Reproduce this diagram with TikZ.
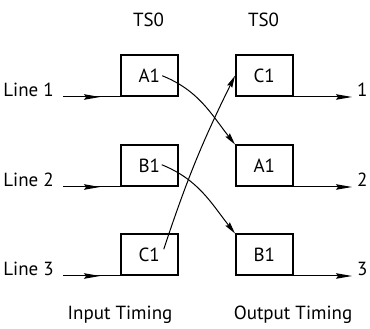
\documentclass[tikz,border=0pt]{standalone}
\usepackage{fontspec}
\setmainfont{PT Sans}
\usetikzlibrary{arrows.meta,decorations.markings}
\begin{document}
\begin{tikzpicture}[x=1pt,y=1pt,
  font=\fontsize{19}{22}\selectfont,
  slot/.style={draw,line width=1.5pt,minimum width=57pt,minimum height=41pt,inner sep=0pt,anchor=south west},
  lbl/.style={inner sep=0pt},
  conn/.style={line width=1pt},
  tipbig/.style={-{Stealth[length=16pt,width=5.5pt,inset=2pt]}},
  tipsmall/.style={-{Stealth[length=12pt,width=5.5pt,inset=1.5pt]}},
  midarrow/.style={postaction={decorate},decoration={markings,mark=at position 0.65 with {\arrow{Stealth[length=16pt,width=5.5pt,inset=2pt]}}}}
]
\useasboundingbox (0,0) rectangle (370,329);
% boxes
\node[slot] (a1) at (120,232) {A1};
\node[slot] (b1) at (120,142) {B1};
\node[slot] (c1) at (120,53) {C1};
\node[slot] (c2) at (235,232) {C1};
\node[slot] (a2) at (235,142) {A1};
\node[slot] (b2) at (235,53) {B1};
% headings
\node[lbl,anchor=base] (ts1) at (148.5,302) {TS0};
\node[lbl,anchor=base] (ts2) at (263.5,302) {TS0};
\node[lbl,anchor=base] (it) at (120,9) {Input Timing};
\node[lbl,anchor=base] (ot) at (293,9) {Output Timing};
% line labels
\node[lbl,anchor=base east] (l1) at (54,232) {Line 1};
\node[lbl,anchor=base east] (l2) at (54,142) {Line 2};
\node[lbl,anchor=base east] (l3) at (54,53) {Line 3};
\node[lbl,anchor=base west] (o1) at (357,232) {1};
\node[lbl,anchor=base west] (o2) at (357,142) {2};
\node[lbl,anchor=base west] (o3) at (357,53) {3};
% endpoints
\coordinate (i1) at (63,232);
\coordinate (i2) at (63,142);
\coordinate (i3) at (63,53);
\coordinate (e1) at (352,232);
\coordinate (e2) at (352,142);
\coordinate (e3) at (352,53);
% inputs
\draw[conn,midarrow] (i1) -- (a1.south west);
\draw[conn,midarrow] (i2) -- (b1.south west);
\draw[conn,midarrow] (i3) -- (c1.south west);
% outputs
\draw[conn,tipbig] (c2.south east) -- (e1);
\draw[conn,tipbig] (a2.south east) -- (e2);
\draw[conn,tipbig] (b2.south east) -- (e3);
% crossings
\draw[conn,tipsmall] ([xshift=13pt]a1.center) to[out=-22,in=128] (a2.north west);
\draw[conn,tipsmall] ([xshift=12.5pt,yshift=1pt]b1.center) to[out=-22,in=128] (b2.north west);
\draw[conn,tipsmall] ([xshift=14.5pt,yshift=5.5pt]c1.center) to[bend left=4] (c2.west);
\end{tikzpicture}
\end{document}
